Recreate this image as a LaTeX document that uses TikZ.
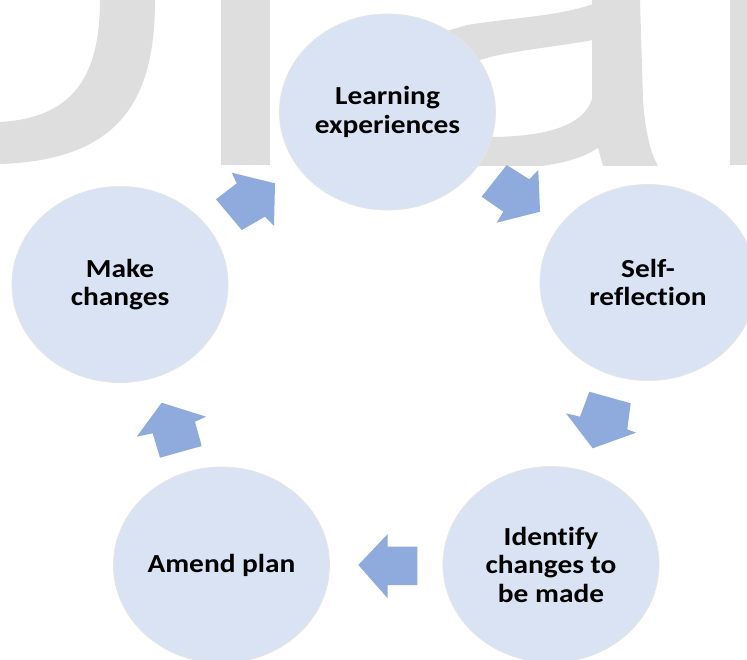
\documentclass[tikz,border=0pt]{standalone}
\usepackage{fontspec}
\newfontfamily\lblfont{Carlito}[FakeStretch=1.13, Ligatures=NoCommon]
\usetikzlibrary{shapes.geometric}
\definecolor{circfill}{HTML}{DAE3F3}
\definecolor{arrfill}{HTML}{8FAADC}
\definecolor{wmgray}{HTML}{DEDEDE}
\begin{document}
\begin{tikzpicture}[x=1pt,y=-1pt,
  stage/.style={ellipse, minimum width=216pt, minimum height=196pt, fill=circfill,
    draw=white!90!black, line width=0.8pt, inner sep=0pt, align=center,
    font=\lblfont\bfseries\fontsize{26}{28.5}\selectfont, text=black},
  blockarrow/.style={fill=arrfill, draw=none},
  wm/.style={fill=wmgray, draw=none}]
\useasboundingbox (0,0) rectangle (747,659);
\clip (0,0) rectangle (747,659);
\fill[white] (0,0) rectangle (747,659);
% watermark
\begin{scope}
\clip (0,0) rectangle (747,165);
\fill[wm] (100,0) -- (155,0) .. controls (155,100) and (120,160) .. (0,164) -- (0,122) .. controls (70,118) and (100,80) .. (100,0) -- cycle;
\fill[wm] (221,0) rectangle (270,165);
\fill[wm] (592,0) -- (640,0) -- (643,100) .. controls (645,130) and (650,152) .. (658,166) -- (603,166) .. controls (597,145) and (592,125) .. (592,100) -- cycle;
\fill[wm] (430,36) -- (467,25) .. controls (510,18) and (560,16) .. (593,4) -- (593,40) .. controls (560,46) and (520,50) .. (490,57) -- (440,72) -- cycle;
\fill[wm] (593,95) .. controls (588,120) and (560,136) .. (493,137) -- (440,137) -- (440,170) -- (490,170) .. controls (550,168) and (590,160) .. (606,140) -- cycle;
\fill[wm] (730,0) rectangle (747,165);
\end{scope}
% stages
\node[stage] (learn) at (387.5,112) {Learning\\experiences};
\node[stage] (make) at (120,284.5) {Make\\changes};
\node[stage] (self) at (648,282.5) {Self-\\reflection};
\node[stage] (ident) at (551,564.5) {Identify\\changes to\\be made};
\node[stage] (amend) at (221.5,565) {Amend plan};
% block arrows
\fill[blockarrow] (231.7,172.7) -- (275,183.3) -- (274,226) -- (265,216.7) -- (241.7,230) -- (216,199.3) -- (236.7,183.3) -- cycle;
\fill[blockarrow] (481.7,196.7) -- (506.7,165) -- (529.3,179.3) -- (538.3,170) -- (540,211.7) -- (496.7,222.7) -- (503.3,211.7) -- cycle;
\fill[blockarrow] (589.3,391.7) -- (630.7,403.3) -- (627.3,429.3) -- (636,432.7) -- (592.7,448.3) -- (566,413.3) -- (580,416.7) -- cycle;
\fill[blockarrow] (417.3,546.7) -- (417.3,585) -- (387.7,585) -- (387.7,598.3) -- (358.3,565) -- (387.7,534) -- (387.7,546.7) -- cycle;
\fill[blockarrow] (161.7,402.7) -- (206,416.7) -- (195,421.7) -- (201.7,446) -- (160,457.7) -- (152.7,433.3) -- (136.7,436.7) -- cycle;
\end{tikzpicture}
\end{document}
